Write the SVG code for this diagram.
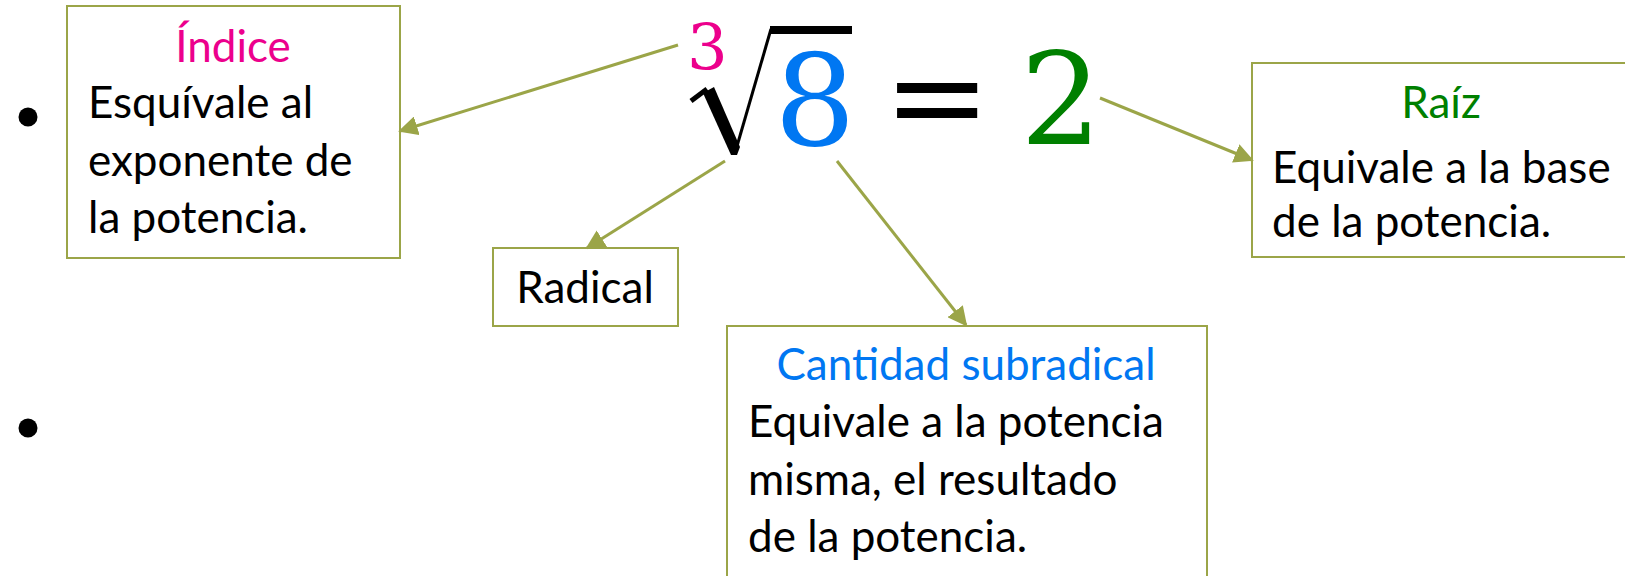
<svg xmlns="http://www.w3.org/2000/svg" width="1625" height="576" viewBox="0 0 1625 576">
<style>
.box{fill:#fff;stroke:#9BA548;stroke-width:2}
.body{font-family:Lato,"Noto Sans",sans-serif;font-size:44px;fill:#000}
.ttl{font-family:Lato,"Noto Sans",sans-serif;font-size:44px;text-anchor:middle}
.math{font-family:"DejaVu Serif",serif}
.conn line{stroke:#9BA548;stroke-width:3;marker-end:url(#ah)}
</style>
<defs>
<marker id="ah" viewBox="0 0 10 10" refX="9" refY="5" markerWidth="6.5" markerHeight="6.5" orient="auto" markerUnits="strokeWidth">
<path d="M0,0 L10,5 L0,10 z" fill="#9BA548"/>
</marker>
</defs>
<rect width="1625" height="576" fill="#fff"/>
<g id="bullets">
<circle cx="28" cy="117" r="9.5" fill="#000"/>
<circle cx="28" cy="428" r="9.5" fill="#000"/>
</g>
<g id="equation">
<text class="math" x="687" y="70" font-size="64" fill="#EC008C">3</text>
<path d="M691,101 L707,89" stroke="#000" stroke-width="5" fill="none"/>
<polygon points="703,93 714,87 740,147 737,155 731,155" fill="#000"/>
<path d="M735,153 L771,29" stroke="#000" stroke-width="3" fill="none"/>
<rect x="770" y="26" width="82" height="8" fill="#000"/>
<text class="math" x="815" y="145" font-size="128" fill="#0077F2" text-anchor="middle">8</text>
<text class="math" x="937" y="140" font-size="128" fill="#000" text-anchor="middle">=</text>
<text class="math" x="1061" y="144" font-size="128" fill="#008000" text-anchor="middle">2</text>
</g>
<g id="node-indice">
<rect class="box" x="67" y="6" width="333" height="252"/>
<text class="ttl" x="233" y="62" fill="#EC008C">Índice</text>
<text class="body" x="88" y="118">Esquívale al</text>
<text class="body" x="88" y="176">exponente de</text>
<text class="body" x="88" y="233">la potencia.</text>
</g>
<g id="node-radical">
<rect class="box" x="493" y="248" width="185" height="78"/>
<text class="ttl" x="585" y="303" fill="#000">Radical</text>
</g>
<g id="node-raiz">
<rect class="box" x="1252" y="63" width="400" height="194"/>
<text class="ttl" x="1441" y="118" fill="#008000">Raíz</text>
<text class="body" x="1272" y="183">Equivale a la base</text>
<text class="body" x="1272" y="237">de la potencia.</text>
</g>
<g id="node-cantidad">
<rect class="box" x="727" y="326" width="480" height="280"/>
<text class="ttl" x="966" y="380" fill="#0077F2">Cantidad subradical</text>
<text class="body" x="748" y="437">Equivale a la potencia</text>
<text class="body" x="748" y="495">misma, el resultado</text>
<text class="body" x="748" y="552">de la potencia.</text>
</g>
<g class="conn" id="connectors">
<line x1="678" y1="45" x2="400" y2="131"/>
<line x1="725" y1="161" x2="587" y2="248"/>
<line x1="837" y1="161" x2="966" y2="325"/>
<line x1="1100" y1="98" x2="1252" y2="160"/>
</g>
</svg>
